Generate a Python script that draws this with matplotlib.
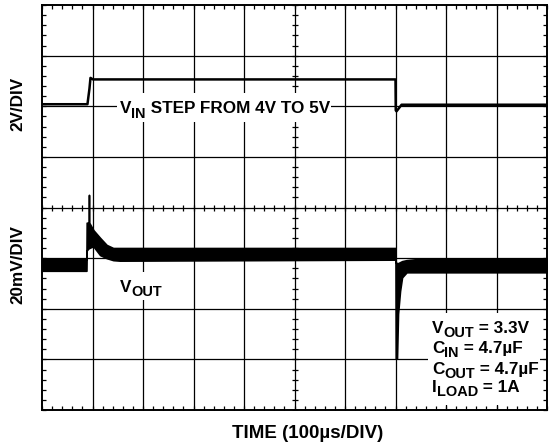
import numpy as np
import matplotlib
matplotlib.use("Agg")
import matplotlib.pyplot as plt
from matplotlib.patches import Rectangle
from matplotlib.transforms import ScaledTranslation

plt.rcParams['font.family'] = ['Liberation Sans', 'DejaVu Sans']
plt.rcParams['font.weight'] = 'bold'

# ---- data (time in divisions of 100 us) ----
# VIN in volts (2 V/DIV), channel offset: 0 V at 4.04 div
vin_t = [0.0, 0.90, 0.94, 0.96, 1.01, 7.00, 7.005, 7.02, 7.12, 10.0]
vin_v = [4.00, 4.00, 4.62, 5.04, 4.98, 4.98, 3.76, 3.72, 3.98, 3.98]
VIN_ZERO_DIV = 4.04
VIN_SCALE = 2.0  # V/div

# VOUT AC-coupled deviation in mV (20 mV/DIV), noise envelope upper/lower
vout_t = [0.0, 0.88, 0.885, 0.925, 0.93, 0.935, 0.98, 1.02, 1.15, 1.28, 1.41, 1.54,
          7.00, 7.005, 7.03, 7.05, 7.09, 7.13, 7.22, 7.42, 10.0]
vout_hi = [2.4, 2.4, 16.8, 16.8, 27.8, 16.8, 15.2, 13.8, 10.8, 8.0, 6.8, 6.8,
           6.8, 1.2, 0.8, 0.8, 1.2, 1.6, 2.0, 2.4, 2.4]
vout_lo = [-2.2, -2.2, 5.8, 6.8, 6.8, 6.8, 7.2, 7.4, 4.0, 2.8, 2.0, 1.8,
           2.2, -36.8, -36.8, -19.2, -10.2, -4.8, -2.8, -2.8, -2.8]
VOUT_ZERO_DIV = 2.86
VOUT_SCALE = 20.0  # mV/div

# ---- figure ----
fig = plt.figure(figsize=(5.54, 4.46), dpi=100)
ax = fig.add_axes([42/554, 36/446, 505/554, 405/446])
ax.set_xlim(0, 10)
ax.set_ylim(0, 8)

for x in range(1, 10):
    ax.axvline(x, color='black', lw=0.9, zorder=1)
for y in range(1, 8):
    ax.axhline(y, color='black', lw=0.9, zorder=1)

minor = np.arange(0, 10.001, 0.2)
minor_y = np.arange(0, 8.001, 0.2)
ax.set_xticks(minor)
ax.set_yticks(minor_y)
ax.set_xticklabels([])
ax.set_yticklabels([])
ax.tick_params(direction='in', length=3.2, width=0.9, top=True, right=True,
               bottom=True, left=True, colors='black')
ax.plot(minor, [4]*len(minor), ls='none', marker='|', ms=4.5, mew=0.9, color='black', zorder=1)
ax.plot([5]*len(minor_y), minor_y, ls='none', marker='_', ms=4.5, mew=0.9, color='black', zorder=1)

for s in ax.spines.values():
    s.set_linewidth(1.4)

# traces
vin_div = VIN_ZERO_DIV + np.array(vin_v) / VIN_SCALE
ax.plot(vin_t, vin_div, color='black', lw=1.8, zorder=3)

hi = VOUT_ZERO_DIV + np.array(vout_hi) / VOUT_SCALE
lo = VOUT_ZERO_DIV + np.array(vout_lo) / VOUT_SCALE
ax.fill_between(vout_t, lo, hi, color='black', lw=1.2, edgecolor='black', zorder=3)

fs = 12.3
SUB = 0.85
DROP = -3.0  # points
renderer = fig.canvas.get_renderer()


def rich(x, y, parts):
    off = 0.0
    for txt, is_sub in parts:
        size = fs * SUB if is_sub else fs
        dy = DROP if is_sub else 0.0
        tr = ax.transData + ScaledTranslation(off, dy / 72, fig.dpi_scale_trans)
        t = ax.text(x, y, txt, fontsize=size, fontweight='bold', ha='left',
                    va='baseline', transform=tr, zorder=4)
        off += t.get_window_extent(renderer).width / fig.dpi


# white backgrounds behind labels
ax.add_patch(Rectangle((1.485, 5.69), 4.24, 0.57, facecolor='white', edgecolor='none', zorder=2))
ax.add_patch(Rectangle((1.45, 2.17), 1.03, 0.56, facecolor='white', edgecolor='none', zorder=2))
ax.add_patch(Rectangle((7.64, 0.1), 2.22, 1.82, facecolor='white', edgecolor='none', zorder=2))

rich(1.545, 5.86, [("V", False), ("IN", True), (" STEP FROM 4V TO 5V", False)])
rich(1.545, 2.34, [("V", False), ("OUT", True)])

block = [[("V", False), ("OUT", True), (" = 3.3V", False)],
         [("C", False), ("IN", True), (" = 4.7µF", False)],
         [("C", False), ("OUT", True), (" = 4.7µF", False)],
         [("I", False), ("LOAD", True), (" = 1A", False)]]
base_y = [1.53, 1.13, 0.72, 0.36]
for parts, yy in zip(block, base_y):
    rich(7.72, yy, parts)

fig.text(18/554, 1-104/446, "2V/DIV", rotation=90, fontsize=fs, fontweight='bold',
         ha='center', va='center')
fig.text(18/554, 1-265/446, "20mV/DIV", rotation=90, fontsize=fs, fontweight='bold',
         ha='center', va='center')
fig.text(308/554, 1-434/446, "TIME (100µs/DIV)", fontsize=13.5, fontweight='bold',
         ha='center', va='center')

fig.savefig("out.png", dpi=100)
